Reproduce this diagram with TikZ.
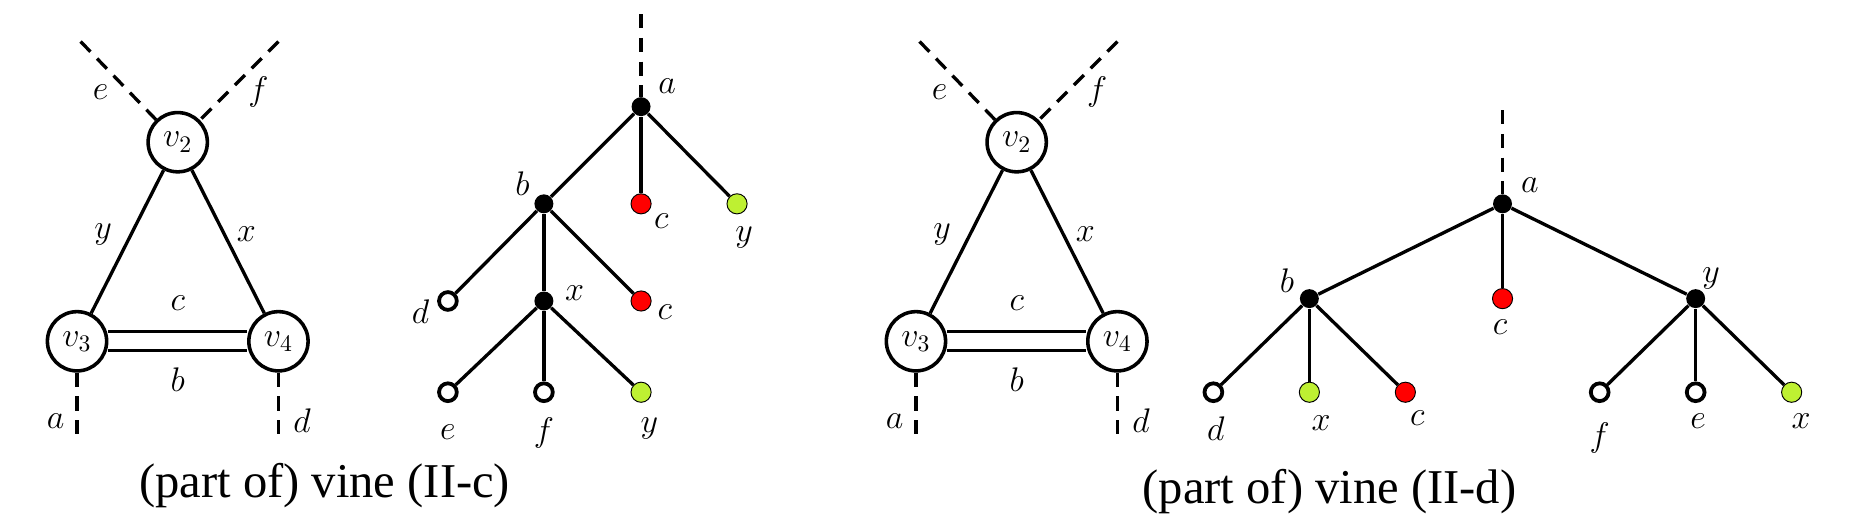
\documentclass[tikz,border=0pt]{standalone}
\usepackage{amsmath}
\usepackage{fontspec}
\usetikzlibrary{positioning}
\newfontfamily\capfont{Liberation Serif}
\definecolor{lime}{RGB}{190,240,50}
\tikzset{
  vert/.style={circle,draw,line width=1.5pt,fill=white,minimum size=25pt,inner sep=0pt,font=\Large},
  blk/.style={circle,fill=black,minimum size=8pt,inner sep=0pt},
  opn/.style={circle,draw,line width=1.6pt,fill=white,minimum size=7.5pt,inner sep=0pt},
  red/.style={circle,draw,fill=red,minimum size=8.5pt,inner sep=0pt},
  grn/.style={circle,draw,fill=lime,minimum size=8.5pt,inner sep=0pt},
  lbl/.style={font=\Large},
  leg/.style={line width=1.4pt,dashed,dash pattern=on 6pt off 4pt},
  edg/.style={line width=1.4pt}
}
\begin{document}
\begin{tikzpicture}[x=0.5pt,y=-0.5pt]
\useasboundingbox (0,0) rectangle (1568,447);
% vine (II-c)
\node[vert] (v2) at (150,120) {$v_2$};
\node[vert] (v3) at (65,288) {$v_3$};
\node[vert] (v4) at (235,288) {$v_4$};
\coordinate (ce) at (68,35); \coordinate (cf) at (235,35);
\coordinate (ca) at (65,372); \coordinate (cd) at (235,372);
\draw[leg] (ce) -- (v2); \draw[leg] (cf) -- (v2);
\draw[leg] (v3) -- (ca); \draw[leg] (v4) -- (cd);
\draw[edg] (v2) -- (v3); \draw[edg] (v2) -- (v4);
\draw[edg] ([yshift=4pt]v3.east) -- ([yshift=4pt]v4.west);
\draw[edg] ([yshift=-4pt]v3.east) -- ([yshift=-4pt]v4.west);
\node[lbl] at (85,78) {$e$}; \node[lbl] at (218,78) {$f$};
\node[lbl] at (87,198) {$y$}; \node[lbl] at (208,198) {$x$};
\node[lbl] at (150,256) {$c$}; \node[lbl] at (150,320) {$b$};
\node[lbl] at (47,355) {$a$}; \node[lbl] at (255,355) {$d$};
% tree (II-c)
\node[blk] (ta) at (541,90) {};
\coordinate (tt) at (541,12);
\node[blk] (tb) at (459,172) {};
\node[red] (tc) at (541,172) {};
\node[grn] (ty) at (622,172) {};
\node[opn] (td) at (378,254) {};
\node[blk] (tx) at (459,254) {};
\node[red] (tc2) at (541,254) {};
\node[opn] (te) at (378,331) {};
\node[opn] (tf) at (459,331) {};
\node[grn] (ty2) at (541,331) {};
\draw[leg] (tt) -- (ta);
\foreach \s/\t in {ta/tb,ta/tc,ta/ty,tb/td,tb/tx,tb/tc2,tx/te,tx/tf,tx/ty2}
  \draw[edg] (\s) -- (\t);
\node[lbl] at (563,73) {$a$}; \node[lbl] at (441,155) {$b$};
\node[lbl] at (558,187) {$c$}; \node[lbl] at (628,200) {$y$};
\node[lbl] at (355,263) {$d$}; \node[lbl] at (485,247) {$x$};
\node[lbl] at (561,263) {$c$};
\node[lbl] at (378,365) {$e$}; \node[lbl] at (459,365) {$f$};
\node[lbl] at (548,362) {$y$};
\node[font=\capfont\fontsize{20.5}{24}\selectfont] at (274,410) {(part of) vine (II-c)};
% vine (II-d)
\node[vert] (w2) at (858,120) {$v_2$};
\node[vert] (w3) at (773,288) {$v_3$};
\node[vert] (w4) at (943,288) {$v_4$};
\coordinate (we) at (776,35); \coordinate (wf) at (943,35);
\coordinate (wa) at (773,372); \coordinate (wd) at (943,372);
\draw[leg] (we) -- (w2); \draw[leg] (wf) -- (w2);
\draw[leg] (w3) -- (wa); \draw[leg] (w4) -- (wd);
\draw[edg] (w2) -- (w3); \draw[edg] (w2) -- (w4);
\draw[edg] ([yshift=4pt]w3.east) -- ([yshift=4pt]w4.west);
\draw[edg] ([yshift=-4pt]w3.east) -- ([yshift=-4pt]w4.west);
\node[lbl] at (793,78) {$e$}; \node[lbl] at (926,78) {$f$};
\node[lbl] at (795,198) {$y$}; \node[lbl] at (916,198) {$x$};
\node[lbl] at (858,256) {$c$}; \node[lbl] at (858,320) {$b$};
\node[lbl] at (755,355) {$a$}; \node[lbl] at (963,355) {$d$};
% tree (II-d)
\node[blk] (sa) at (1268,172) {};
\coordinate (st) at (1268,93);
\node[blk] (sb) at (1105,252) {};
\node[red] (sc) at (1268,252) {};
\node[blk] (sy) at (1431,252) {};
\node[opn] (sd) at (1024,331) {};
\node[grn] (sx) at (1105,331) {};
\node[red] (sc2) at (1186,331) {};
\node[opn] (sf) at (1350,331) {};
\node[opn] (se) at (1431,331) {};
\node[grn] (sx2) at (1512,331) {};
\draw[leg] (st) -- (sa);
\foreach \s/\t in {sa/sb,sa/sc,sa/sy,sb/sd,sb/sx,sb/sc2,sy/sf,sy/se,sy/sx2}
  \draw[edg] (\s) -- (\t);
\node[lbl] at (1291,156) {$a$}; \node[lbl] at (1086,237) {$b$};
\node[lbl] at (1266,276) {$c$}; \node[lbl] at (1444,235) {$y$};
\node[lbl] at (1026,362) {$d$}; \node[lbl] at (1115,357) {$x$};
\node[lbl] at (1196,353) {$c$};
\node[lbl] at (1350,370) {$f$}; \node[lbl] at (1433,355) {$e$};
\node[lbl] at (1520,355) {$x$};
\node[font=\capfont\fontsize{20.5}{24}\selectfont] at (1122,415) {(part of) vine (II-d)};
\end{tikzpicture}
\end{document}
